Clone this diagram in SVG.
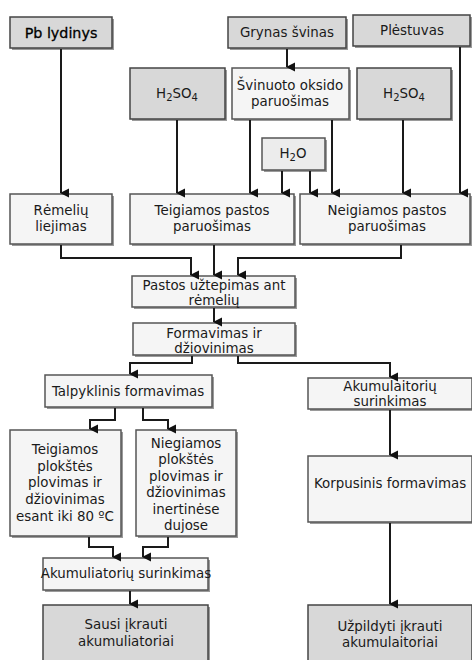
<svg xmlns="http://www.w3.org/2000/svg" width="472" height="660" viewBox="0 0 472 660">
<defs>
<marker id="ah" markerWidth="10" markerHeight="9" refX="5" refY="8" orient="auto-start-reverse" markerUnits="userSpaceOnUse" viewBox="0 0 10 9">
<path d="M0.5,0 L9.5,0 L5,9 Z" fill="#111"/>
</marker>
<style>
.b rect.m{fill:#f5f5f5;stroke:#555;stroke-width:1.5}
.g rect.m{fill:#d8d8d8;stroke:#444;stroke-width:1.5}
rect.s{fill:#9a9a9a}
text{font-family:"DejaVu Sans",Verdana,sans-serif;font-size:13.4px;fill:#1a1a1a;text-anchor:middle}
.c path{fill:none;stroke:#1a1a1a;stroke-width:2;marker-end:url(#ah)}
</style>
</defs>
<rect width="472" height="660" fill="#ffffff"/>

<g id="pb" class="g"><rect class="s" x="12" y="19" width="102" height="31"/><rect class="m" x="10" y="17" width="102" height="31"/><text x="61" y="38" style="font-size:14.3px;fill:#000;stroke:#000;stroke-width:0.3">Pb lydinys</text></g>
<g id="grynas" class="g"><rect class="s" x="230" y="19" width="118" height="31"/><rect class="m" x="228" y="17" width="118" height="31"/><text x="287" y="37">Grynas švinas</text></g>
<g id="plestuvas" class="g"><rect class="s" x="355" y="17" width="117" height="31"/><rect class="m" x="353" y="15" width="117" height="31"/><text x="412" y="35">Plėstuvas</text></g>
<g id="h2so4a" class="g"><rect class="s" x="132" y="70" width="95" height="51"/><rect class="m" x="130" y="68" width="95" height="51"/><text x="177" y="98">H<tspan font-size="10" dy="3">2</tspan><tspan dy="-3">SO</tspan><tspan font-size="10" dy="3">4</tspan></text></g>
<g id="svinuoto" class="b"><rect class="s" x="234" y="70" width="117" height="51"/><rect class="m" x="232" y="68" width="117" height="51"/><text x="290" y="90">Švinuoto oksido</text><text x="290" y="106">paruošimas</text></g>
<g id="h2so4b" class="g"><rect class="s" x="359" y="70" width="94" height="51"/><rect class="m" x="357" y="68" width="94" height="51"/><text x="404" y="98">H<tspan font-size="10" dy="3">2</tspan><tspan dy="-3">SO</tspan><tspan font-size="10" dy="3">4</tspan></text></g>
<g id="h2o" class="b"><rect class="s" x="264" y="140" width="63" height="32"/><rect class="m" x="262" y="138" width="63" height="32" style="fill:#ececec"/><text x="293" y="158">H<tspan font-size="10" dy="3">2</tspan><tspan dy="-3">O</tspan></text></g>

<g id="remeliu" class="b"><rect class="s" x="12" y="196" width="102" height="50"/><rect class="m" x="10" y="194" width="102" height="50"/><text x="61" y="215">Rėmelių</text><text x="61" y="231">liejimas</text></g>
<g id="teigiamos" class="b"><rect class="s" x="132" y="196" width="164" height="50"/><rect class="m" x="130" y="194" width="164" height="50"/><text x="212" y="215">Teigiamos pastos</text><text x="212" y="231">paruošimas</text></g>
<g id="neigiamos" class="b"><rect class="s" x="302" y="196" width="170" height="50"/><rect class="m" x="300" y="194" width="170" height="50"/><text x="387" y="215">Neigiamos pastos</text><text x="387" y="231">paruošimas</text></g>

<g id="pastos" class="b"><rect class="s" x="134" y="278" width="163" height="31"/><rect class="m" x="132" y="276" width="163" height="31"/><text x="214" y="290">Pastos užtepimas ant</text><text x="214" y="305">rėmelių</text></g>
<g id="formavimas" class="b"><rect class="s" x="135" y="325" width="162" height="32"/><rect class="m" x="133" y="323" width="162" height="32"/><text x="214" y="338">Formavimas ir</text><text x="214" y="353">džiovinimas</text></g>

<g id="talpyklinis" class="b"><rect class="s" x="47" y="377" width="167" height="32"/><rect class="m" x="45" y="375" width="167" height="32"/><text x="128" y="396">Talpyklinis formavimas</text></g>
<g id="teigplok" class="b"><rect class="s" x="12" y="432" width="111" height="106"/><rect class="m" x="10" y="430" width="111" height="106"/><text x="65" y="454">Teigiamos</text><text x="65" y="471">plokštės</text><text x="65" y="487">plovimas ir</text><text x="65" y="504">džiovinimas</text><text x="65" y="521">esant iki 80 ºC</text></g>
<g id="niegplok" class="b"><rect class="s" x="138" y="432" width="100" height="106"/><rect class="m" x="136" y="430" width="100" height="106"/><text x="186" y="448">Niegiamos</text><text x="186" y="464">plokštės</text><text x="186" y="481">plovimas ir</text><text x="186" y="497">džiovinimas</text><text x="186" y="514">inertinėse</text><text x="186" y="530">dujose</text></g>
<g id="akusurL" class="b"><rect class="s" x="45" y="560" width="165" height="32"/><rect class="m" x="43" y="558" width="165" height="32"/><text x="126" y="578">Akumuliatorių surinkimas</text></g>
<g id="sausi" class="g"><rect class="s" x="45" y="607" width="165" height="60"/><rect class="m" x="43" y="605" width="165" height="60"/><text x="126" y="629">Sausi įkrauti</text><text x="126" y="646">akumuliatoriai</text></g>

<g id="akusurR" class="b"><rect class="s" x="310" y="380" width="164" height="31"/><rect class="m" x="308" y="378" width="164" height="31"/><text x="390" y="391">Akumulaitorių</text><text x="390" y="406">surinkimas</text></g>
<g id="korpusinis" class="b"><rect class="s" x="310" y="458" width="164" height="66"/><rect class="m" x="308" y="456" width="164" height="66"/><text x="390" y="488">Korpusinis formavimas</text></g>
<g id="uzpildyti" class="g"><rect class="s" x="310" y="607" width="164" height="60"/><rect class="m" x="308" y="605" width="164" height="60"/><text x="390" y="631">Užpildyti įkrauti</text><text x="390" y="647">akumulaitoriai</text></g>

<g id="connectors" class="c">
<path d="M61,49 V193"/>
<path d="M177,120 V193"/>
<path d="M287,49 V67"/>
<path d="M250,120 V193"/>
<path d="M332,120 V193"/>
<path d="M282,171 V193"/>
<path d="M310,171 V193"/>
<path d="M403,120 V193"/>
<path d="M460,47 V193"/>
<path d="M61,245 V258 H191 V275"/>
<path d="M214,245 V275"/>
<path d="M401,245 V258 H238 V275"/>
<path d="M214,308 V322"/>
<path d="M192,356 V363 H130 V374"/>
<path d="M238,356 V363 H390 V377"/>
<path d="M115,408 V420 H90 V429"/>
<path d="M143,408 V420 H168 V429"/>
<path d="M89,537 V547 H113 V557"/>
<path d="M168,537 V547 H143 V557"/>
<path d="M130,591 V604"/>
<path d="M390,410 V455"/>
<path d="M390,523 V604"/>
</g>
</svg>
